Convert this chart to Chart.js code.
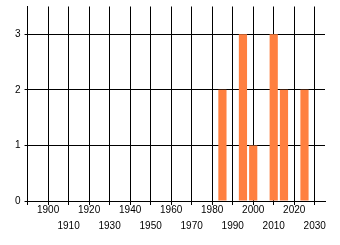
<!DOCTYPE html>
<html>
<head>
<meta charset="utf-8">
<script src="https://cdn.jsdelivr.net/npm/chart.js@4/dist/chart.umd.min.js"></script>
<style>
  html, body { margin: 0; padding: 0; background: #fff; }
  #wrap { width: 340px; height: 245px; }
</style>
</head>
<body>
<div id="wrap"><canvas id="chart"></canvas></div>
<script>
// values
var years = [1985, 1995, 2000, 2010, 2015, 2025];
var counts = [2, 3, 1, 3, 2, 2];
var yTicks = [0, 1, 2, 3];

var points = [];
for (var i = 0; i < years.length; i++) {
    points.push({ x: years[i], y: counts[i] });
}

Chart.defaults.font.family = "'Liberation Sans', Arial, sans-serif";
Chart.defaults.font.size = 10;
Chart.defaults.color = '#000';

var ctx = document.getElementById('chart');
var myChart = new Chart(ctx, {
    type: 'bar',
    data: {
        datasets: [{
            data: points,
            backgroundColor: '#ff8040',
            borderWidth: 0,
            barPercentage: 0.8,
            categoryPercentage: 1.0
        }]
    },
    options: {
        responsive: true,
        maintainAspectRatio: false,
        animation: false,
        layout: { padding: { left: 11, top: 6, right: 15, bottom: 14 } },
        plugins: { legend: { display: false }, tooltip: { enabled: false } },
        scales: {
            x: {
                type: 'linear',
                min: 1890,
                max: 2035,
                offset: false,
                grid: { color: '#000', lineWidth: 1, tickLength: 4, offset: false },
                border: { color: '#000' },
                ticks: {
                    stepSize: 10,
                    includeBounds: false,
                    autoSkip: false,
                    maxRotation: 0,
                    padding: -3,
                    font: { lineHeight: 1.6 },
                    callback: function (v) {
                        if (v < 1900) return ['', ''];
                        // staggered labels, every other decade on the second row
                        if (((v - 1900) / 10) % 2 === 0) return ['' + v, ''];
                        return ['', '' + v];
                    }
                }
            },
            y: {
                min: 0,
                max: 3.5,
                grid: { color: '#000', lineWidth: 1, tickLength: 3 },
                border: { color: '#000' },
                ticks: {
                    stepSize: 1,
                    includeBounds: false,
                    padding: 4,
                    font: { lineHeight: 0.5 },
                    callback: function (v) {
                        return yTicks.indexOf(v) >= 0 ? '' + v : '';
                    }
                }
            }
        }
    }
});
</script>
</body>
</html>
